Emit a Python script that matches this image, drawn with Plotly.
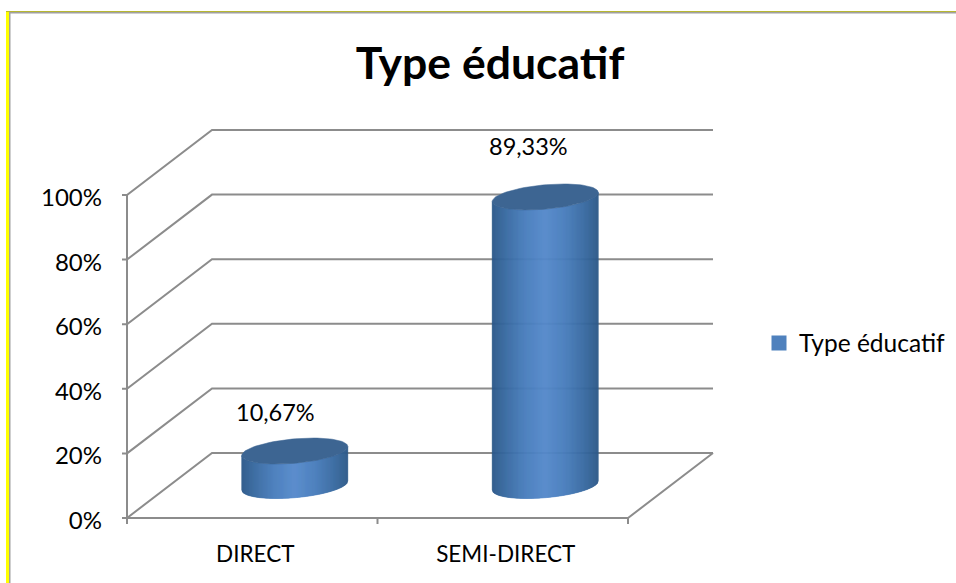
import numpy as np
import plotly.graph_objects as go

# chart data
categories = ["DIRECT", "SEMI-DIRECT"]
values = [10.67, 89.33]
y_ticks = [0, 20, 40, 60, 80, 100]
y_tick_labels = ["0%", "20%", "40%", "60%", "80%", "100%"]
series_name = "Type éducatif"

W, H = 956, 583
# plot area reaches past the axes so their lines and tick stubs are not clipped
PAD_X, PAD_Y = 5, 6
LEFT, BOTTOM = 127 - PAD_X, 65 - PAD_Y
SLOT_PX = 250.5             # px per category
PCT_PX = 3.23               # px per percent
DEPTH_X, DEPTH_Y = 85, 65   # 3d wall offset in px

GRID = "#8c8c8c"
FONT = "Lato, Carlito, Calibri, sans-serif"

def ux(px):
    return px / SLOT_PX

def uy(px):
    return px / PCT_PX

# helpers: depth offset in axis units
dx, dy = ux(DEPTH_X), uy(DEPTH_Y)
n_cat = len(categories)
x_lo, y_lo = -ux(PAD_X), -uy(PAD_Y)

fig = go.Figure()

# walls, floor and the tick stubs on both axes
gx, gy = [0, 0, None], [y_lo, y_ticks[-1], None]
for t in y_ticks:
    gx += [x_lo, 0, dx, n_cat + dx, None]
    gy += [t, t, t + dy, t + dy, None]
gx += [0, n_cat, n_cat + dx, None]
gy += [0, 0, dy, None]
for i in range(1, n_cat + 1):
    gx += [i, i, None]
    gy += [y_lo, 0, None]
fig.add_trace(go.Scatter(x=gx, y=gy, mode="lines", line=dict(color=GRID, width=2),
                         hoverinfo="skip", showlegend=False))

# cylinders
HALF_W, HALF_H, TILT = 53, 12.2, 4.5
STOPS = [0, 0.12, 0.3, 0.5, 0.7, 0.88, 1]
REDS = [44, 56, 72, 86, 72, 56, 46]
GREENS = [88, 106, 125, 138, 125, 106, 90]
BLUES = [138, 160, 188, 204, 188, 160, 138]
CAP = "#3d6592"

def strip_color(f):
    return "rgb(%d,%d,%d)" % (np.interp(f, STOPS, REDS), np.interp(f, STOPS, GREENS), np.interp(f, STOPS, BLUES))

us = np.linspace(-1, 1, 107)
for i, v in enumerate(values):
    cx = i + 0.5 + dx / 2
    base = dy / 2
    lower = -uy(HALF_H) * np.sqrt(1 - us ** 2) + uy(TILT) * us
    xs = cx + ux(HALF_W) * us
    for j in range(len(us) - 1):
        f = (us[j] + us[j + 1] + 2) / 4
        fig.add_trace(go.Scatter(
            x=[xs[j], xs[j + 1], xs[j + 1], xs[j], xs[j]],
            y=[base + lower[j], base + lower[j + 1], base + v + lower[j + 1], base + v + lower[j], base + lower[j]],
            mode="lines", fill="toself", fillcolor=strip_color(f),
            line=dict(color=strip_color(f), width=0.6),
            hoverinfo="skip", showlegend=False))
    t = np.linspace(0, 2 * np.pi, 90)
    fig.add_trace(go.Scatter(
        x=cx + ux(HALF_W) * np.cos(t),
        y=base + v + uy(HALF_H) * np.sin(t) + uy(TILT) * np.cos(t),
        mode="lines", fill="toself", fillcolor=CAP, line=dict(color=CAP, width=0.5),
        hoverinfo="skip", showlegend=False))

# legend entry
fig.add_trace(go.Scatter(x=[None], y=[None], mode="markers", name=series_name,
                         marker=dict(symbol="square", size=15, color="#4f81bd")))

# data labels
label_shift = [(-19, 39), (-17, 51)]
for i, v in enumerate(values):
    fig.add_annotation(x=i + 0.5 + dx / 2, y=dy / 2 + v, text=f"{v:.2f}".replace(".", ",") + "%",
                       xshift=label_shift[i][0], yshift=label_shift[i][1], showarrow=False,
                       font=dict(size=23.5, color="#000000", family=FONT))

# tick labels sit slightly off the tick positions in the original
fig.update_xaxes(range=[x_lo, x_lo + ux(W - LEFT)], tickmode="array",
                 tickvals=[i + 0.5 + ux(3) for i in range(n_cat)], ticktext=categories,
                 ticks="", ticklabelstandoff=14, showgrid=False, zeroline=False,
                 tickfont=dict(size=22.5, color="#000000", family=FONT))
fig.update_yaxes(range=[y_lo, y_lo + uy(H - BOTTOM)], tickmode="array",
                 tickvals=[t - uy(2.5) for t in y_ticks], ticktext=y_tick_labels,
                 ticks="", showgrid=False, zeroline=False, ticklabelstandoff=19,
                 tickfont=dict(size=24, color="#000000", family=FONT))

# outer frame, yellow edge and grey line inside it
frame = [
    dict(x0=6, x1=9, y0=11, y1=583, fillcolor="#ffff00"),
    dict(x0=9, x1=10.5, y0=12, y1=583, fillcolor="#a0a0a0"),
    dict(x0=6, x1=956, y0=11, y1=12, fillcolor="#b8b830"),
    dict(x0=9, x1=956, y0=12, y1=13.5, fillcolor="#a0a0a0"),
]
for s in frame:
    fig.add_shape(type="rect", xref="paper", yref="paper", line_width=0, fillcolor=s["fillcolor"],
                  x0=(s["x0"] - LEFT) / (W - LEFT), x1=(s["x1"] - LEFT) / (W - LEFT),
                  y0=(H - BOTTOM - s["y0"]) / (H - BOTTOM), y1=(H - BOTTOM - s["y1"]) / (H - BOTTOM))

fig.update_layout(
    width=W, height=H, margin=dict(l=LEFT, r=0, t=0, b=BOTTOM),
    paper_bgcolor="white", plot_bgcolor="rgba(0,0,0,0)",
    title=dict(text="<b>Type éducatif</b>", x=490 / W, xanchor="center", y=1 - 63 / H, yanchor="middle",
               font=dict(size=44.5, color="#000000", family=FONT)),
    legend=dict(x=(759 - LEFT) / (W - LEFT), y=(H - BOTTOM - 343) / (H - BOTTOM), xanchor="left", yanchor="middle",
                font=dict(size=24.5, color="#000000", family=FONT), itemwidth=30, bgcolor="rgba(0,0,0,0)"),
)

# drop the default page margin so the figure fills the window
fig.write_html("out.html", config=dict(displayModeBar=False),
               post_script="document.body.style.margin='0';document.body.style.overflow='hidden';")
